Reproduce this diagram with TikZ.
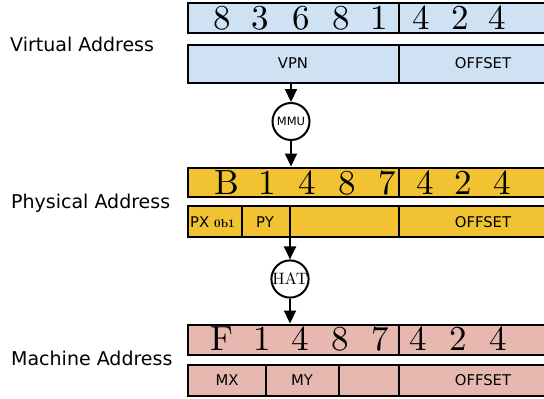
\documentclass[tikz,border=0pt]{standalone}
\usepackage{fontspec}
\newfontfamily\dv{DejaVu Sans}
\newfontfamily\lmten{lmroman10-regular}[Extension=.otf,BoldFont=lmroman10-bold]
\usetikzlibrary{arrows.meta}
\definecolor{vblue}{HTML}{CFE2F3}
\definecolor{pgold}{HTML}{F1C232}
\definecolor{mpink}{HTML}{E6B8AF}
\tikzset{
 reg/.style={draw=black, line width=2.8pt, rectangle, anchor=north west, minimum width=379pt, inner sep=0pt, outer sep=0pt},
 digit/.style={font=\lmten\fontsize{35}{35}\selectfont, inner sep=0pt, anchor=base},
 fld/.style={font=\dv\fontsize{14.8}{15}\selectfont, inner sep=0pt, anchor=base},
 lbl/.style={font=\dv\fontsize{19}{20}\selectfont, anchor=base west, inner sep=0pt},
 conn/.style={line width=2.2pt, -{Triangle[length=13pt,width=12pt]}},
 unit/.style={circle, draw, line width=2pt, fill=white, minimum size=37pt, inner sep=0pt},
 sep/.style={line width=2.8pt},
}
\begin{document}
\begin{tikzpicture}[x=1pt,y=-1pt]
\clip (0,0) rectangle (544,399);
\fill[white] (0,0) rectangle (544,399);
% labels
\node[lbl] (lv) at (10,51.5) {Virtual Address};
\node[lbl] (lp) at (11,208) {Physical Address};
\node[lbl] (lm) at (11,365) {Machine Address};
% virtual
\node[reg, fill=vblue, minimum height=30pt] (v1) at (188,3) {};
\node[reg, fill=vblue, minimum height=38pt] (v2) at (188,45) {};
\draw[sep] (399,3) -- (399,33);
\draw[sep] (399,45) -- (399,83);
\foreach \d/\x in {8/222,3/260,6/301,8/341,1/379,4/421,2/460,4/497}
  \node[digit] at (\x,29.5) {\d};
\node[fld] (vpn) at (293,68.5) {VPN};
\node[fld] (voff) at (483,68.5) {OFFSET};
% physical
\node[reg, fill=pgold, minimum height=29pt] (p1) at (188,168) {};
\node[reg, fill=pgold, minimum height=31pt] (p2) at (188,206) {};
\draw[sep] (399,168) -- (399,197);
\draw[sep] (242,206) -- (242,237);
\draw[sep] (290,206) -- (290,237);
\draw[sep] (399,206) -- (399,237);
\foreach \d/\x in {B/227,1/267,4/307,8/347,7/387,4/425,2/463,4/502}
  \node[digit] at (\x,194) {\d};
\node[fld, anchor=base west] (px) at (190,227) {PX};
\node[font=\lmten\bfseries\fontsize{11.5}{12}\selectfont, inner sep=0pt, anchor=base west] (pxb) at (214,227) {0b1};
\node[fld] (py) at (265,227) {PY};
\node[fld] (poff) at (483,227) {OFFSET};
% machine
\node[reg, fill=mpink, minimum height=30pt] (m1) at (188,325) {};
\node[reg, fill=mpink, minimum height=31pt] (m2) at (188,365) {};
\draw[sep] (399,325) -- (399,355);
\draw[sep] (266,365) -- (266,396);
\draw[sep] (339,365) -- (339,396);
\draw[sep] (399,365) -- (399,396);
\foreach \d/\x in {F/222,1/262,4/300,8/340,7/380,4/418,2/458,4/498}
  \node[digit] at (\x,350) {\d};
\node[fld] (mx) at (227,385) {MX};
\node[fld] (my) at (302,385) {MY};
\node[fld] (moff) at (483,385) {OFFSET};
% units
\node[unit, font=\dv\fontsize{11.5}{12}\selectfont] (mmu) at (291,121.5) {MMU};
\node[unit, font=\lmten\fontsize{16.5}{17}\selectfont] (hat) at (290,279) {HAT};
\coordinate (a1) at (291,84);
\coordinate (a2) at (291,166.5);
\coordinate (a3) at (290,238);
\coordinate (a4) at (290,323.5);
\draw[conn] (a1) -- (mmu.north);
\draw[conn] (mmu.south) -- (a2);
\draw[conn] (a3) -- (hat.north);
\draw[conn] (hat.south) -- (a4);
\end{tikzpicture}
\end{document}
